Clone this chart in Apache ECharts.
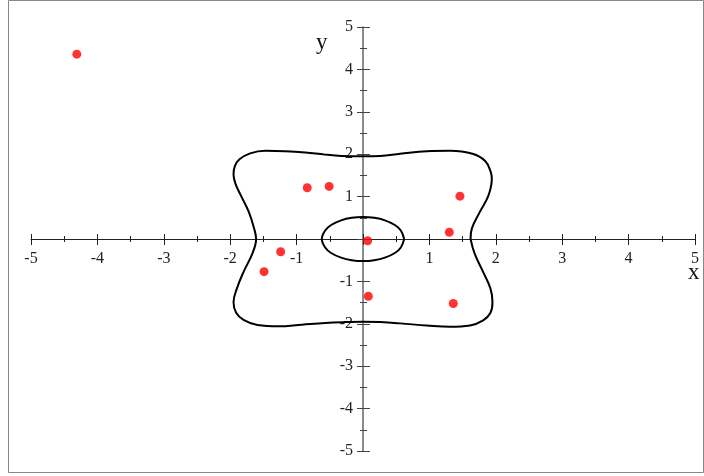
<!DOCTYPE html>
<html>
<head>
<meta charset="utf-8">
<script src="https://cdn.jsdelivr.net/npm/echarts@6/dist/echarts.min.js"></script>
<style>
  html, body { margin: 0; padding: 0; background: #fff; }
  #chart { width: 704px; height: 476px; }
</style>
</head>
<body>
<div id="chart"></div>
<script>
// Axis ticks (labels at every integer, 0 left unlabeled)
const xTickValues = [-5, -4, -3, -2, -1, 0, 1, 2, 3, 4, 5];
const yTickValues = [-5, -4, -3, -2, -1, 0, 1, 2, 3, 4, 5];
const xTickLabels = ['-5', '-4', '-3', '-2', '-1', '', '1', '2', '3', '4', '5'];
const yTickLabels = ['-5', '-4', '-3', '-2', '-1', '', '1', '2', '3', '4', '5'];

// Outer closed curve, traced counter-clockwise from the right x-axis crossing
const outerCurve = [
  [1.62, 0], [1.64, 0.25], [1.76, 0.64], [1.89, 1.03], [1.94, 1.42], [1.92, 1.6],
  [1.84, 1.84], [1.65, 2.01], [1.31, 2.08], [0.96, 2.07], [0.56, 2.01], [0.26, 1.96],
  [0, 1.95], [-0.32, 1.96], [-0.57, 1.99], [-0.87, 2.04], [-1.17, 2.07], [-1.47, 2.08],
  [-1.7, 2.02], [-1.86, 1.88], [-1.93, 1.72], [-1.95, 1.52], [-1.92, 1.3], [-1.84, 1.03],
  [-1.72, 0.64], [-1.64, 0.25], [-1.61, 0], [-1.66, -0.32], [-1.8, -0.78], [-1.9, -1.17],
  [-1.95, -1.49], [-1.91, -1.74], [-1.8, -1.91], [-1.59, -2.03], [-1.27, -2.06],
  [-0.92, -2.02], [-0.57, -1.98], [-0.27, -1.96], [0, -1.95], [0.26, -1.96],
  [0.56, -1.99], [0.96, -2.04], [1.31, -2.07], [1.61, -2.04], [1.81, -1.92],
  [1.92, -1.74], [1.95, -1.49], [1.92, -1.17], [1.81, -0.78], [1.68, -0.34], [1.62, 0]
];

// Inner oval around the origin
const innerCurve = [
  [0.62, 0], [0.57, 0.2], [0.48, 0.33], [0.33, 0.44], [0.17, 0.5], [0, 0.52],
  [-0.17, 0.5], [-0.33, 0.44], [-0.48, 0.33], [-0.57, 0.2], [-0.62, 0],
  [-0.57, -0.2], [-0.48, -0.33], [-0.33, -0.44], [-0.17, -0.5], [0, -0.52],
  [0.17, -0.5], [0.33, -0.44], [0.48, -0.33], [0.57, -0.2], [0.62, 0]
];

// Red sample points
const pointsX = [-4.31, -0.84, -0.51, 1.46, 1.30, 0.07, -1.24, -1.49, 0.08, 1.36];
const pointsY = [4.36, 1.21, 1.24, 1.01, 0.16, -0.04, -0.30, -0.77, -1.35, -1.52];

const labelFont = { fontFamily: 'Liberation Serif', fontSize: 16, color: '#222' };

function fmtFrom(values, labels) {
  return function (v) {
    const i = values.indexOf(Math.round(v * 1000) / 1000);
    return i >= 0 ? labels[i] : '';
  };
}

const chart = echarts.init(document.getElementById('chart'), null, { renderer: 'canvas' });

const range = { type: 'value', min: -5, max: 5, interval: 1 };
const hidden = { type: 'value', show: false, min: -5, max: 5 };

// Plot area: x in [-5,5] spans 31..695 px, y in [-5,5] spans 27..451 px.
// The visible axes sit in helper grids whose edges lie on the origin lines.
const PLOT = { left: 31, right: 9, top: 27, bottom: 25 };

chart.setOption({
  animation: false,
  backgroundColor: '#fff',
  title: [{
    text: 'x',
    left: 688, top: 261, padding: 0,
    textStyle: { fontFamily: 'Liberation Serif', fontSize: 23, fontWeight: 'normal', color: '#111' }
  }, {
    text: 'y',
    left: 316, top: 31, padding: 0,
    textStyle: { fontFamily: 'Liberation Serif', fontSize: 23, fontWeight: 'normal', color: '#111' }
  }],
  grid: [
    Object.assign({}, PLOT),                                        // data
    { left: PLOT.left, right: PLOT.right, top: PLOT.top, bottom: 237 }, // x axis along y = 0
    { left: 363, right: PLOT.right, top: PLOT.top, bottom: PLOT.bottom } // y axis along x = 0
  ],
  xAxis: [
    Object.assign({}, hidden, { gridIndex: 0 }),
    Object.assign({}, range, {
      gridIndex: 1, position: 'bottom',
      axisLine: { onZero: false, lineStyle: { color: '#222', width: 1 } },
      axisTick: { show: true, inside: false, length: 6, lineStyle: { color: '#222', width: 1 } },
      minorTick: { show: true, splitNumber: 2, length: 3, lineStyle: { color: '#222', width: 1 } },
      axisLabel: Object.assign({ margin: 12, formatter: fmtFrom(xTickValues, xTickLabels) }, labelFont),
      splitLine: { show: false }
    }),
    Object.assign({}, range, {
      gridIndex: 1, position: 'bottom',
      axisLine: { show: false, onZero: false },
      axisTick: { show: true, inside: true, length: 5, lineStyle: { color: '#222', width: 1 } },
      minorTick: { show: true, splitNumber: 2, length: 3, lineStyle: { color: '#222', width: 1 } },
      axisLabel: { show: false },
      splitLine: { show: false }
    }),
    Object.assign({}, hidden, { gridIndex: 2 })
  ],
  yAxis: [
    Object.assign({}, hidden, { gridIndex: 0 }),
    Object.assign({}, hidden, { gridIndex: 1 }),
    Object.assign({}, range, {
      gridIndex: 2, position: 'left',
      axisLine: { onZero: false, lineStyle: { color: '#666', width: 1.5 } },
      axisTick: { show: true, inside: false, length: 6, lineStyle: { color: '#444', width: 1 } },
      minorTick: { show: true, splitNumber: 2, length: 3, lineStyle: { color: '#444', width: 1 } },
      axisLabel: Object.assign({ margin: 10, formatter: fmtFrom(yTickValues, yTickLabels) }, labelFont),
      splitLine: { show: false }
    }),
    Object.assign({}, range, {
      gridIndex: 2, position: 'left',
      axisLine: { show: false, onZero: false },
      axisTick: { show: true, inside: true, length: 7, lineStyle: { color: '#444', width: 1 } },
      minorTick: { show: true, splitNumber: 2, length: 4, lineStyle: { color: '#444', width: 1 } },
      axisLabel: { show: false },
      splitLine: { show: false }
    })
  ],
  graphic: [{
    type: 'rect',
    silent: true,
    shape: { x: 8.5, y: 0.5, width: 695, height: 472 },
    style: { fill: 'none', stroke: '#888', lineWidth: 1 }
  }],
  series: [
    {
      type: 'line',
      xAxisIndex: 0, yAxisIndex: 0,
      data: outerCurve,
      smooth: 0.4,
      showSymbol: false,
      lineStyle: { color: '#000', width: 2 },
      z: 3
    },
    {
      type: 'line',
      xAxisIndex: 0, yAxisIndex: 0,
      data: innerCurve,
      smooth: 0.4,
      showSymbol: false,
      lineStyle: { color: '#000', width: 2 },
      z: 3
    },
    {
      type: 'scatter',
      xAxisIndex: 0, yAxisIndex: 0,
      data: pointsX.map((x, i) => [x, pointsY[i]]),
      symbol: 'circle',
      symbolSize: 9,
      itemStyle: { color: '#ff0000' },
      z: 5
    }
  ]
});
</script>
</body>
</html>
